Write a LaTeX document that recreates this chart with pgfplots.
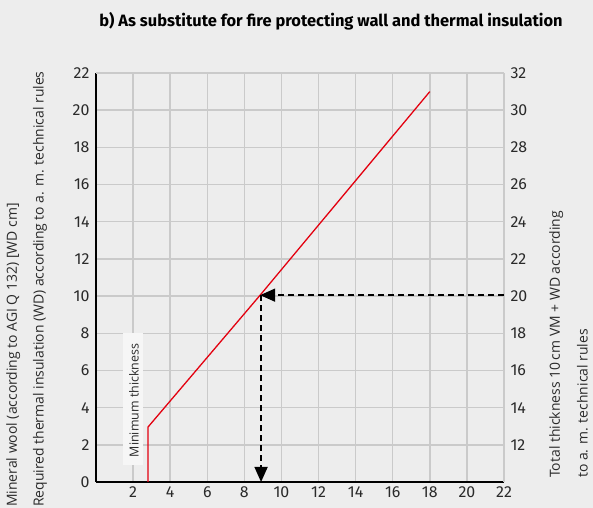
\documentclass[border=0pt]{standalone}
\usepackage{fontspec}
\setmainfont{Fira Sans}
\newfontfamily\labfont{Open Sans}
\usepackage{pgfplots}
\pgfplotsset{compat=1.18}
\usetikzlibrary{arrows.meta}
\definecolor{bg}{HTML}{EDEDED}
\definecolor{gridc}{HTML}{CACACA}
\definecolor{redl}{HTML}{E3000F}
\definecolor{txt}{HTML}{2A2A2A}
\begin{document}
\begin{tikzpicture}[x=1bp,y=1bp]
\path[use as bounding box, fill=bg] (0,0) rectangle (593,508);
\begin{axis}[
  at={(96bp,26bp)}, anchor=south west,
  scale only axis, width=408bp, height=409bp,
  xmin=0, xmax=22, ymin=0, ymax=22,
  xtick={2,4,...,22}, ytick={0,2,...,22},
  grid=major, major grid style={gridc, line width=1.5bp},
  axis x line*=bottom, axis y line*=left,
  axis line style={black, line width=1.5bp, -},
  tick style={draw=none},
  tick label style={font=\fontsize{16}{18}\selectfont, text=txt},
  /pgf/number format/assume math mode=true,
  xticklabel style={yshift=-1bp},
  yticklabel style={xshift=-3bp},
  clip=false,
]
\draw[gridc, line width=1.5bp] (axis cs:0,22) -- (axis cs:22,22);
\draw[gridc, line width=1.5bp] (axis cs:22,0) -- (axis cs:22,22);
\addplot[draw=none, fill=white!50!bg] coordinates {(1.45,0.9) (2.55,0.9) (2.55,8.0) (1.45,8.0)} -- cycle;
\node[rotate=90, anchor=west, font=\labfont\fontsize{12.5}{14}\selectfont, text=txt] at (axis cs:2.05,1.15) {Minimum thickness};
\addplot[redl, line width=1.3pt] coordinates {(2.8,0) (2.8,2.95) (8.85,10.05) (18,21)};
\addplot[black, line width=1.5bp, dash pattern=on 6bp off 4bp, -{Triangle[length=15bp,width=13bp]}] coordinates {(22,10.05) (8.85,10.05)};
\addplot[black, line width=1.5bp, dash pattern=on 6bp off 4bp, -{Triangle[length=15bp,width=13bp]}] coordinates {(8.9,10.05) (8.9,0)};
\end{axis}
\begin{axis}[
  at={(96bp,26bp)}, anchor=south west,
  scale only axis, width=408bp, height=409bp,
  xmin=0, xmax=22, ymin=10, ymax=32,
  ytick={12,14,...,32},
  hide x axis,
  axis y line*=right,
  axis line style={draw=none},
  tick style={draw=none},
  tick label style={font=\fontsize{16}{18}\selectfont, text=txt},
  /pgf/number format/assume math mode=true,
  yticklabel style={xshift=3bp},
]
\end{axis}
\node[font=\bfseries\fontsize{16.5}{18}\selectfont, text=black, anchor=center] at (331,487) {b) As substitute for fire protecting wall and thermal insulation};
\node[rotate=90, anchor=north west, align=left, font=\labfont\fontsize{14}{27}\selectfont, text=txt, inner sep=0pt] at (6,1) {Mineral wool (according to AGI Q 132) [WD cm]\\Required thermal insulation (WD) according to a. m. technical rules};
\node[rotate=90, anchor=north west, align=left, font=\labfont\fontsize{14}{28}\selectfont, text=txt, inner sep=0pt] at (549,30) {Total thickness 10\,cm VM + WD according\\to a. m. technical rules};
\end{tikzpicture}
\end{document}
